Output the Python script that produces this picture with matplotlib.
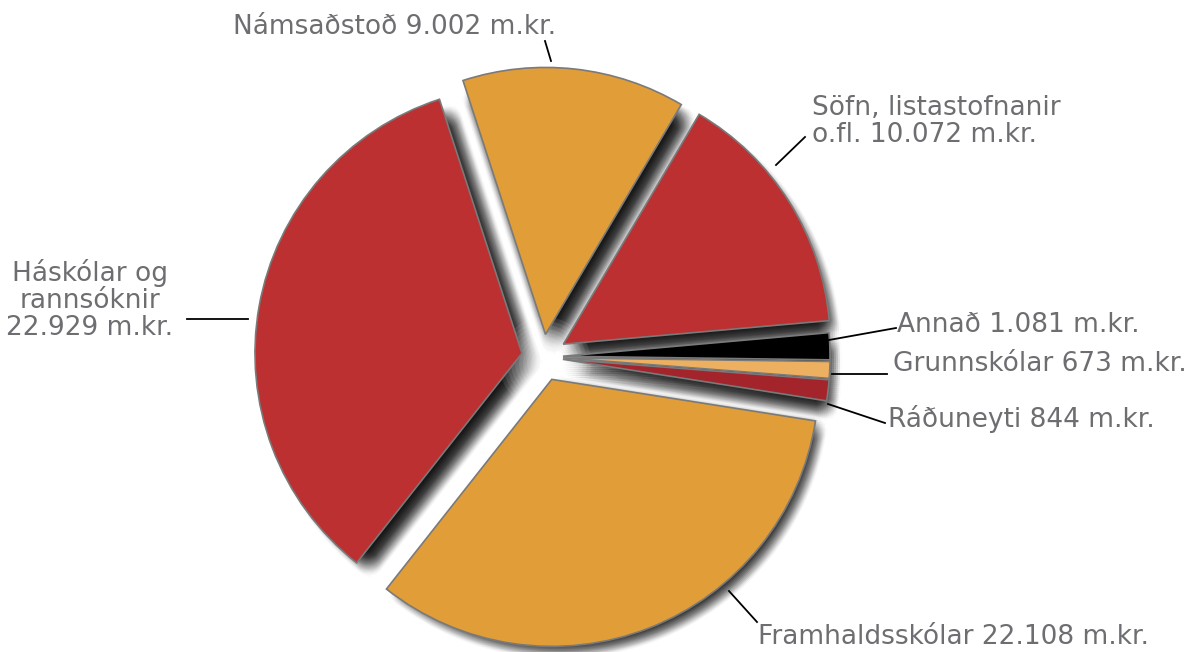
import matplotlib.pyplot as plt

# data (m.kr.)
labels = ['Námsaðstoð 9.002 m.kr.', 'Söfn, listastofnanir\no.fl. 10.072 m.kr.',
          'Annað 1.081 m.kr.', 'Grunnskólar 673 m.kr.', 'Ráðuneyti 844 m.kr.',
          'Framhaldsskólar 22.108 m.kr.', 'Háskólar og\nrannsóknir\n22.929 m.kr.']
values = [9002, 10072, 1081, 673, 844, 22108, 22929]
colors = ['#E19D38', '#BC3031', '#000000', '#EDB060', '#A3242A', '#E19D38', '#BC3031']
explode = [0.085, 0.09, 0.075, 0.075, 0.075, 0.09, 0.08]

H = 652
cx, cy = 543, H - 357
R = 267
expl_px = [e * R for e in explode]

# label layout: text anchor (image px), alignment, leader line (image px)
label_pos = [(233, 27, 'left'), (812, 122, 'left'), (897, 325, 'left'), (893, 364, 'left'),
             (888, 419, 'left'), (758, 637, 'left'), (90, 300, 'center')]
leaders = [((545, 41), (551, 61)), ((776, 165), (805, 137)), ((829, 340), (896, 328)),
           ((832, 374), (887, 374)), ((828, 404), (885, 423)), ((729, 591), (757, 622)),
           ((187, 319), (248, 319))]

fig = plt.figure(figsize=(11.89, 6.52), dpi=100)
ax = fig.add_axes([0, 0, 1, 1])

# soft shadow: many faint pies jittered around an offset -> blurred look
offsets = [(dx, dy) for dx in range(-12, 13, 2) for dy in range(-12, 13, 2) if dx * dx + dy * dy <= 144]
for dx, dy in offsets:
    ax.pie(values, explode=expl_px, startangle=108, counterclock=False,
           center=(cx + 8 + dx, cy - 9 + dy), radius=R - 8, colors=['black'] * len(values),
           wedgeprops=dict(linewidth=0, alpha=0.014), frame=True)

# white glow where the slices meet
for r in range(6, 48, 4):
    ax.add_patch(plt.Circle((cx + 2, cy - 6), r, color='white', alpha=0.09, linewidth=0))

ax.pie(values, explode=expl_px, startangle=108, counterclock=False,
       center=(cx, cy), radius=R, colors=colors,
       wedgeprops=dict(edgecolor='#7a7a7a', linewidth=1.2), frame=True)
ax.set_xlim(0, 1189)
ax.set_ylim(0, H)
ax.set_aspect('auto')
ax.axis('off')

for lab, (x, y, ha), ((x1, y1), (x2, y2)) in zip(labels, label_pos, leaders):
    ax.text(x, H - y, lab, ha=ha, va='center', fontsize=19, color='#6D6E71',
            family='DejaVu Sans', linespacing=1.05, multialignment=ha)
    ax.plot([x1, x2], [H - y1, H - y2], color='black', linewidth=1.3)

plt.savefig('out.png', dpi=100, facecolor='white')
